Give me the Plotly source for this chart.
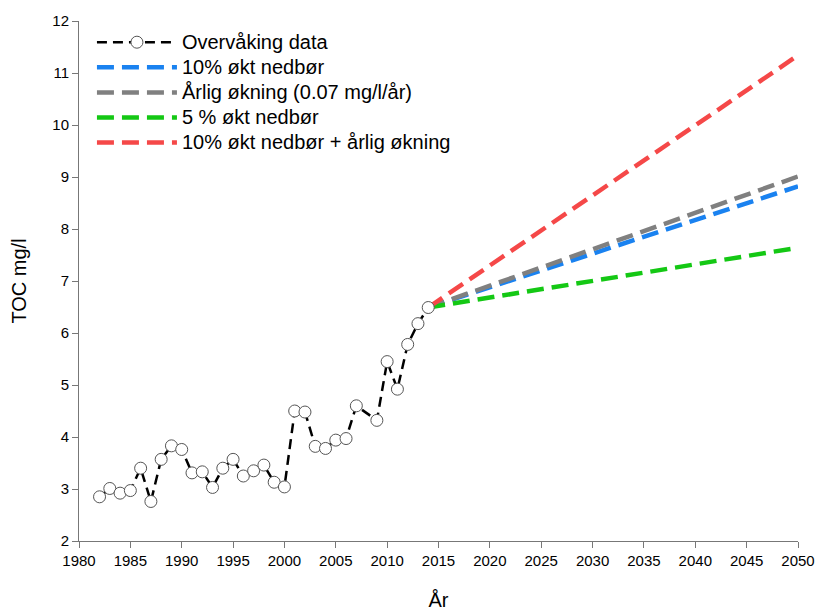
import plotly.graph_objects as go

# Observed TOC concentrations (mg/l); 2008 has no measurement
obs_years = [1982, 1983, 1984, 1985, 1986, 1987, 1988, 1989, 1990, 1991, 1992,
             1993, 1994, 1995, 1996, 1997, 1998, 1999, 2000, 2001, 2002, 2003,
             2004, 2005, 2006, 2007, 2009, 2010, 2011, 2012, 2013, 2014]
obs_toc = [2.85, 3.01, 2.92, 2.97, 3.40, 2.76, 3.57, 3.83, 3.76, 3.31, 3.33,
           3.03, 3.40, 3.57, 3.25, 3.35, 3.46, 3.13, 3.04, 4.50, 4.48, 3.82,
           3.78, 3.94, 3.97, 4.60, 4.32, 5.45, 4.92, 5.78, 6.18, 6.49]

# Scenario projections from the last observation to 2050
proj_years = [2014, 2050]
proj_10pct = [6.49, 8.82]
proj_annual = [6.49, 9.01]
proj_5pct = [6.49, 7.64]
proj_combined = [6.49, 11.34]

scenarios = [
    ("10% økt nedbør", proj_10pct, "#1a82f0", 2),
    ("Årlig økning (0.07 mg/l/år)", proj_annual, "#808080", 3),
    ("5 % økt nedbør", proj_5pct, "#14c814", 4),
    ("10% økt nedbør + årlig økning", proj_combined, "#f54848", 5),
]


def legend_label(text):
    # larger legend text while keeping compact row spacing
    return f'<span style="font-size:20px">{text}</span>'


fig = go.Figure()

for name, vals, color, rank in scenarios:
    fig.add_trace(go.Scatter(
        x=proj_years, y=vals, mode="lines", name=legend_label(name),
        legendrank=rank,
        line=dict(color=color, width=4.5, dash="17px,8px"),
    ))

fig.add_trace(go.Scatter(
    x=obs_years, y=obs_toc, mode="lines+markers",
    name=legend_label("Overvåking data"), legendrank=1,
    line=dict(color="black", width=2.5, dash="10px,6px"),
    marker=dict(symbol="circle", size=12, color="white",
                line=dict(color="#555555", width=1)),
))

axis_common = dict(
    showgrid=False, zeroline=False, showline=True, linecolor="#777777",
    linewidth=1, ticks="outside", ticklen=6, tickcolor="#777777",
    automargin=False,
    tickfont=dict(family="Liberation Sans, Arial, sans-serif", size=15,
                  color="black"),
)

fig.update_layout(
    width=818, height=612,
    margin=dict(l=79, r=20, t=21, b=71, autoexpand=False),
    plot_bgcolor="white", paper_bgcolor="white",
    font=dict(family="Liberation Sans, Arial, sans-serif", color="black"),
    xaxis=dict(range=[1980, 2050], dtick=5, tick0=1980,
               title=dict(text="År", font=dict(size=20), standoff=24),
               **axis_common),
    yaxis=dict(range=[2, 12], dtick=1, tick0=2,
               title=dict(text="TOC mg/l", font=dict(size=20), standoff=20),
               **axis_common),
    legend=dict(x=0.018, y=0.993, xanchor="left", yanchor="top",
                bgcolor="rgba(0,0,0,0)", font=dict(size=17),
                tracegroupgap=0, itemwidth=80),
    showlegend=True,
)

fig.write_html("out.html")
